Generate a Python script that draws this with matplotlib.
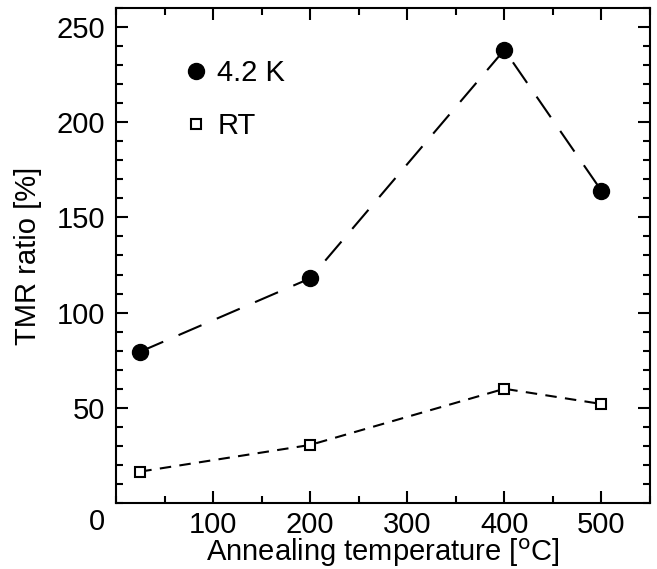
import numpy as np
import matplotlib
matplotlib.use('Agg')
import matplotlib.pyplot as plt
from matplotlib.ticker import MultipleLocator

plt.rcParams['font.family'] = ['Liberation Sans', 'DejaVu Sans']

# annealing temperature [C] and TMR ratio [%]
temp = [25, 200, 400, 500]
tmr_4k = [79.5, 118, 238, 164]
tmr_rt = [16.5, 30.5, 60, 52]

fig = plt.figure(figsize=(6.57, 5.69), dpi=100)
ax = fig.add_axes([116/657, 1 - 503/569, (650-116)/657, (503-8)/569])

ax.plot(temp, tmr_4k, color='black', lw=1.5, dashes=(12, 8),
        marker='o', ms=11.5, mfc='black', label='4.2 K')
ax.plot(temp, tmr_rt, color='black', lw=1.5, dashes=(5.5, 4),
        marker='s', ms=7, mfc='white', mew=1.5, label='RT')

ax.set_xlim(0, 550)
ax.set_ylim(0, 260)
ax.xaxis.set_major_locator(MultipleLocator(100))
ax.xaxis.set_minor_locator(MultipleLocator(50))
ax.yaxis.set_major_locator(MultipleLocator(50))
ax.yaxis.set_minor_locator(MultipleLocator(10))
ax.tick_params(which='both', direction='in', top=True, right=True, width=1.5)
ax.tick_params(which='major', length=8.5, labelsize=21)
ax.tick_params(which='minor', length=5)
ax.tick_params(axis='x', pad=6)
ax.tick_params(axis='y', pad=8)
for s in ax.spines.values():
    s.set_linewidth(1.5)

ax.set_xticks([100, 200, 300, 400, 500])
ax.set_yticks([50, 100, 150, 200, 250])
ax.annotate('0', xy=(0, 0), xycoords='axes fraction', xytext=(-13.7, -14),
            textcoords='offset points', ha='center', va='center', fontsize=21)

ax.set_xlabel('Annealing temperature [$^{\\mathrm{o}}$C]', fontsize=21, labelpad=-2)
ax.set_ylabel('TMR ratio [%]', fontsize=21, labelpad=10)

leg = ax.legend(loc='upper left', bbox_to_anchor=(0.078, 0.95), frameon=False,
                fontsize=21, handlelength=0.8, handletextpad=0.35, labelspacing=0.85)
for h in leg.legend_handles:
    h.set_linestyle('none')

fig.savefig('out.png', dpi=100)
